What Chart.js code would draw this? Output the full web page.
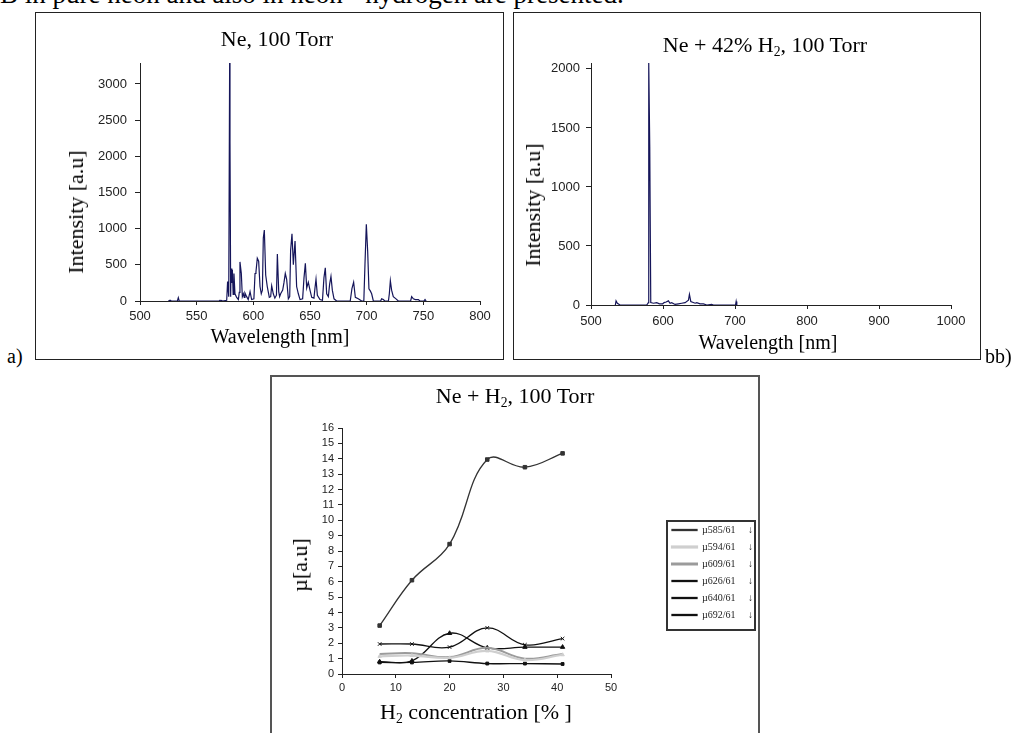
<!DOCTYPE html>
<html lang="en">
<head>
<meta charset="UTF-8" />
<script src="https://cdn.jsdelivr.net/npm/chart.js@4.4.1/dist/chart.umd.min.js"></script>
<title>Ne and Ne + H2 emission</title>
<style>
  body { margin:0; width:1021px; height:733px; overflow:hidden; position:relative; background:#fff; font-family:"Liberation Serif","Times New Roman",serif; color:#000; }
  .panel { position:absolute; box-sizing:border-box; border:1px solid #222; overflow:hidden; }
  .panel canvas { position:absolute; left:0; top:0; }
  .txt { position:absolute; white-space:nowrap; line-height:normal; }
  .ctr { transform:translateX(-50%); }
  .rot { transform:translate(-50%,-50%) rotate(-90deg); }
  sub { font-size:0.62em; vertical-align:-0.28em; line-height:0; }
  #legendBox { position:absolute; box-sizing:border-box; border:2px solid #333; left:666px; top:520px; width:90px; height:111px; }
</style>
</head>
<body>
<div class="txt" style="left:0; top:-21px; font-size:27px;">B in pure neon and also in neon - hydrogen are presented.</div>

<div class="panel" style="left:35px; top:12px; width:469px; height:348px;"><canvas id="chartA" width="467" height="346"></canvas></div>
<div class="panel" style="left:513px; top:12px; width:468px; height:348px;"><canvas id="chartB" width="466" height="346"></canvas></div>
<div class="panel" style="left:270px; top:375px; width:490px; height:380px; border:2px solid #555;"><canvas id="chartC" width="486" height="340"></canvas></div>
<div id="legendBox"></div>

<div class="txt ctr" style="left:277px; top:26px; font-size:22px;">Ne, 100 Torr</div>
<div class="txt ctr" style="left:280px; top:325px; font-size:20px;">Wavelength [nm]</div>
<div class="txt rot" style="left:76px; top:212px; font-size:22px;">Intensity [a.u]</div>

<div class="txt ctr" style="left:765px; top:32px; font-size:22px;">Ne + 42% H<sub>2</sub>, 100 Torr</div>
<div class="txt ctr" style="left:768px; top:331px; font-size:20px;">Wavelength [nm]</div>
<div class="txt rot" style="left:533px; top:205px; font-size:22px;">Intensity [a.u]</div>

<div class="txt ctr" style="left:515px; top:383px; font-size:22px;">Ne + H<sub>2</sub>, 100 Torr</div>
<div class="txt ctr" style="left:476px; top:699px; font-size:22px;">H<sub>2</sub> concentration [% ]</div>
<div class="txt rot" style="left:300px; top:565px; font-size:22px;">µ[a.u]</div>

<div class="txt" style="left:7px; top:345px; font-size:20px;">a)</div>
<div class="txt" style="left:985px; top:345px; font-size:20px;">bb)</div>

<script>
  // (a) Ne, 100 Torr - spectrum
  const wlNe = [525, 526.5, 527.3, 533, 533.8, 534.6, 569.8, 570.6, 571.4, 572, 572.8,
    576.5, 577.3, 578.3, 579.1, 579.4, 580, 580.3, 581, 581.5, 582.2, 582.9, 583.8, 585.3,
    586.8, 587.6, 588.2, 589.4, 590.3, 591.2, 592, 592.6, 594.1, 595.5, 597.1, 598.5,
    600.5, 601.5, 602.3, 603.5, 604.7, 605.9, 607, 608, 608.8, 609.7, 610.9, 612.3,
    614.1, 615.3, 616.2, 617.6, 619, 620.4, 621.2, 622.4, 623.2, 624.1, 625.9, 627,
    628.2, 629.4, 630.9, 632.1, 632.9, 634.1, 635.3, 636.8, 638.2, 639.7, 641.2, 643.5,
    644.7, 645.9, 647.1, 648.5, 650, 651.5, 653.5, 654.4, 655.3, 656.5, 658.8, 661,
    662.3, 663.5, 664.7, 666.2, 667.3, 668.5, 669.7, 671.2, 673.5, 685.5, 687, 688.5,
    690, 692.6, 695.6, 697.5, 698.5, 699.7, 700.9, 702, 703.2, 704.4, 705.9, 712.3,
    713.2, 714.7, 716, 719.2, 720, 720.9, 722, 723.5, 725.9, 727.9, 738.8, 739.7,
    741.2, 743, 745.6, 747, 750.5, 751.5, 752.5];
  const intNe = [0, 12, 0, 0, 45, 0, 0, 10, 0, 8, 0,
    10, 270, 60, 3290, 2200, 60, 450, 250, 430, 90, 380, 100, 50,
    20, 120, 540, 380, 60, 100, 50, 110, 60, 20, 130, 20,
    30, 380, 400, 590, 550, 200, 100, 150, 870, 980, 360, 200,
    50, 60, 210, 100, 40, 80, 650, 130, 60, 100, 150, 250,
    380, 300, 30, 60, 700, 930, 500, 830, 200, 100, 20, 30,
    320, 520, 180, 260, 150, 50, 40, 180, 300, 80, 20, 10,
    320, 460, 100, 60, 230, 340, 150, 30, 0, 0, 170, 260,
    50, 30, 0, 0, 500, 1060, 680, 170, 140, 100, 0, 0,
    30, 20, 0, 0, 100, 280, 150, 60, 30, 0, 0, 60,
    30, 20, 20, 0, 0, 20, 0];
  const yTicksNe = [0, 500, 1000, 1500, 2000, 2500, 3000];

  // (b) Ne + 42% H2, 100 Torr
  const wlNeH2 = [533.8, 534.8, 536.6, 540.3, 577.4, 579.7, 580.2, 581.6, 583, 586.7,
    591.3, 595, 599.6, 601.5, 604.3, 607.5, 609.8, 612.1, 616.8, 621.4, 626, 630.7,
    635.3, 636.7, 638.6, 644.6, 646.9, 651.5, 656.2, 660.8, 667.7, 670, 700.7, 701.6, 702.5];
  const intNeH2 = [0, 35, 15, 0, 0, 20, 2050, 1340, 20, 15,
    20, 10, 10, 20, 25, 35, 15, 20, 5, 10, 15, 20,
    40, 90, 30, 15, 20, 10, 10, 0, 5, 0, 0, 30, 0];
  const yTicksNeH2 = [0, 500, 1000, 1500, 2000];

  // (c) line ratios vs H2 concentration
  const h2Conc = [7, 13, 20, 27, 34, 41];
  const mu585 = [3.15, 6.1, 8.45, 13.95, 13.45, 14.35];
  const mu594 = [1.15, 1.2, 1.05, 1.5, 0.9, 1.25];
  const mu609 = [1.3, 1.35, 1.1, 1.7, 1.0, 1.3];
  const mu626 = [1.95, 1.95, 1.75, 3.0, 1.9, 2.3];
  const mu640 = [0.8, 0.85, 2.65, 1.7, 1.75, 1.75];
  const mu692 = [0.75, 0.75, 0.85, 0.68, 0.68, 0.65];
  const muNames = ['µ585/61', 'µ594/61', 'µ609/61', 'µ626/61', 'µ640/61', 'µ692/61'];

  const toXY = (xs, ys) => xs.map((x, i) => ({ x: x, y: ys[i] }));

  const tickFont = { family: "'Liberation Sans', Arial, sans-serif", size: 13 };
  const axisGrid = { display: true, drawOnChartArea: false, drawTicks: true, tickLength: 4, color: '#222' };
  const axisBorder = { display: true, color: '#222', width: 1 };

  const spectrumChart = (id, xs, ys, opt) => {
    new Chart(document.getElementById(id), {
      type: 'line',
      data: {
        datasets: [{
          data: toXY(xs, ys),
          borderColor: '#15155a',
          borderWidth: 1.2,
          pointRadius: 0,
          tension: 0,
          fill: false
        }]
      },
      options: {
        responsive: false,
        animation: false,
        devicePixelRatio: 1,
        layout: { padding: { top: 50, right: opt.padRight, left: 0, bottom: 0 } },
        plugins: { legend: { display: false }, tooltip: { enabled: false } },
        scales: {
          x: {
            type: 'linear', min: opt.xMin, max: opt.xMax,
            grid: axisGrid, border: axisBorder,
            ticks: { stepSize: opt.xStep, font: tickFont, color: '#222', padding: opt.xPad, maxRotation: 0, callback: v => v },
            afterFit: s => { s.height = opt.xHeight; }
          },
          y: {
            min: 0, max: opt.yMax,
            grid: Object.assign({}, axisGrid, { tickLength: 5 }), border: axisBorder,
            ticks: { font: tickFont, color: '#222', padding: opt.yPad, callback: v => v },
            // the top of the axis is not a round number, so give the ticks by hand
            afterBuildTicks: s => { s.ticks = opt.yTicks.map(v => ({ value: v })); },
            afterFit: s => { s.width = opt.yWidth; }
          }
        }
      }
    });
  };

  spectrumChart('chartA', wlNe, intNe, { xMin: 500, xMax: 800, xStep: 50, yMax: 3290, yTicks: yTicksNe, padRight: 23, xHeight: 58, yWidth: 104, xPad: 4, yPad: 8 });
  spectrumChart('chartB', wlNeH2, intNeH2, { xMin: 500, xMax: 1000, xStep: 100, yMax: 2050, yTicks: yTicksNeH2, padRight: 29, xHeight: 54, yWidth: 77, xPad: 5, yPad: 6 });

  const muSeries = [mu585, mu594, mu609, mu626, mu640, mu692];
  const muColors = ['#333333', '#cfcfcf', '#9b9b9b', '#111111', '#111111', '#111111'];
  const muWidths = [1.3, 2.2, 2, 1.3, 1.3, 1.3];
  const muPoints = ['rect', 'triangle', 'circle', 'crossRot', 'triangle', 'rect'];
  const muRadius = [2.5, 2, 0, 2.5, 2.5, 2];

  const smallFont = { family: "'Liberation Sans', Arial, sans-serif", size: 11 };

  new Chart(document.getElementById('chartC'), {
    type: 'line',
    data: {
      datasets: muSeries.map((ys, i) => ({
        label: muNames[i],
        data: toXY(h2Conc, ys),
        borderColor: muColors[i],
        backgroundColor: muColors[i],
        borderWidth: muWidths[i],
        pointStyle: muPoints[i],
        pointRadius: muRadius[i],
        pointBorderWidth: 1,
        tension: 0.4,
        fill: false
      }))
    },
    options: {
      responsive: false,
      animation: false,
      devicePixelRatio: 1,
      layout: { padding: { top: 51, right: 3, left: 0, bottom: 0 } },
      plugins: {
        tooltip: { enabled: false },
        legend: {
          position: 'right',
          maxWidth: 90,
          labels: {
            boxWidth: 25, boxHeight: 1, padding: 7, color: '#222',
            font: { family: "'Liberation Serif', serif", size: 10 },
            generateLabels: chart => Chart.defaults.plugins.legend.labels.generateLabels(chart)
              .map(l => Object.assign(l, { text: l.text + '\u00a0\u00a0\u00a0\u00a0\u00a0\u2193' }))
          }
        }
      },
      scales: {
        x: {
          type: 'linear', min: 0, max: 50,
          grid: axisGrid, border: axisBorder,
          ticks: { stepSize: 10, font: smallFont, color: '#222', padding: 3, maxRotation: 0 },
          afterFit: s => { s.height = 43; }
        },
        y: {
          min: 0, max: 16,
          grid: axisGrid, border: axisBorder,
          ticks: { stepSize: 1, autoSkip: false, font: smallFont, color: '#222', padding: 4 },
          afterFit: s => { s.width = 70; }
        },
        // empty gap between the plot and the legend
        spacer: {
          type: 'linear', position: 'right', display: true,
          grid: { display: false }, border: { display: false }, ticks: { display: false },
          afterFit: s => { s.width = 54; }
        }
      }
    }
  });
</script>
</body>
</html>
